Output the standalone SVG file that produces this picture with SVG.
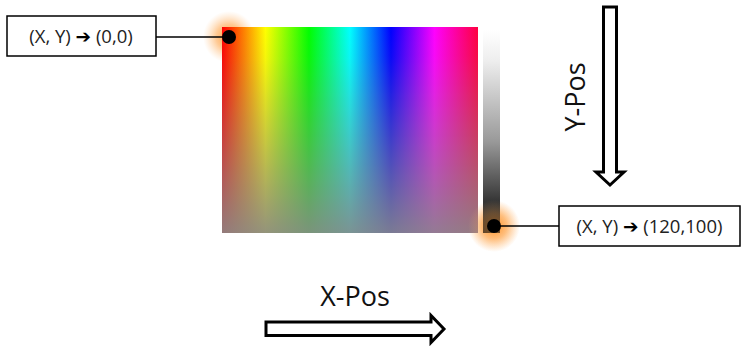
<svg xmlns="http://www.w3.org/2000/svg" width="744" height="347" viewBox="0 0 744 347">
<style>
.box{fill:#fff;stroke:#000;stroke-width:1.5}
.lbl{font-family:"Open Sans","Noto Sans","DejaVu Sans",sans-serif;font-size:18.5px;fill:#222;text-anchor:middle}
.ar{font-family:"DejaVu Sans",sans-serif;font-weight:bold;fill:#000}
.big{font-family:"Open Sans","Noto Sans",sans-serif;font-size:27px;fill:#111;text-anchor:middle}
.conn{stroke:#000;stroke-width:1.5;fill:none}
.arr{fill:#fff;stroke:#000;stroke-width:3;stroke-linejoin:miter}
</style>
<defs>
<linearGradient id="hue" x1="0" y1="0" x2="1" y2="0">
<stop offset="0" stop-color="#ff0000"/>
<stop offset="0.17" stop-color="#ffff00"/>
<stop offset="0.34" stop-color="#00ff00"/>
<stop offset="0.5" stop-color="#00ffff"/>
<stop offset="0.66" stop-color="#0000ff"/>
<stop offset="0.83" stop-color="#ff00ff"/>
<stop offset="1" stop-color="#ff0040"/>
</linearGradient>
<linearGradient id="sat" x1="0" y1="0" x2="0" y2="1">
<stop offset="0" stop-color="#888" stop-opacity="0"/>
<stop offset="0.15" stop-color="#888" stop-opacity="0.08"/>
<stop offset="1" stop-color="#888" stop-opacity="0.9"/>
</linearGradient>
<linearGradient id="val" x1="0" y1="0" x2="0" y2="1">
<stop offset="0" stop-color="#fff"/>
<stop offset="0.15" stop-color="#eee"/>
<stop offset="0.55" stop-color="#999"/>
<stop offset="0.85" stop-color="#333"/>
<stop offset="1" stop-color="#222"/>
</linearGradient>
<radialGradient id="glow">
<stop offset="0" stop-color="#ff8c1a" stop-opacity="0.9"/>
<stop offset="0.5" stop-color="#ffa040" stop-opacity="0.55"/>
<stop offset="1" stop-color="#ffc080" stop-opacity="0"/>
</radialGradient>
</defs>
<g id="picker">
<circle cx="229" cy="37" r="26" fill="url(#glow)"/>
<circle cx="494" cy="226" r="26" fill="url(#glow)"/>
<rect x="222" y="27" width="256" height="206" fill="url(#hue)"/>
<rect x="222" y="27" width="256" height="206" fill="url(#sat)"/>
<rect x="483" y="30" width="17" height="203" fill="url(#val)"/>
<circle cx="494" cy="226" r="26" fill="url(#glow)" opacity="0.5"/>
</g>
<g id="connectors">
<line class="conn" x1="156" y1="37" x2="229" y2="37"/>
<line class="conn" x1="494" y1="226" x2="559" y2="226"/>
<circle cx="229" cy="37" r="7" fill="#000"/>
<circle cx="494" cy="226" r="7" fill="#000"/>
</g>
<g id="origin">
<rect class="box" x="7" y="16" width="149" height="40"/>
<text class="lbl" x="81" y="42.5">(X, Y) <tspan class="ar">➔</tspan> (0,0)</text>
</g>
<g id="end">
<rect class="box" x="559" y="206" width="181" height="40"/>
<text class="lbl" x="649.5" y="232.5">(X, Y) <tspan class="ar">➔</tspan> (120,100)</text>
</g>
<g id="xpos">
<text class="big" x="355" y="306">X-Pos</text>
<path class="arr" d="M266,322 L431,322 L431,315.5 L444,329 L431,342.5 L431,335.5 L266,335.5 Z"/>
</g>
<g id="ypos">
<text class="big" transform="translate(585,97) rotate(-90)">Y-Pos</text>
<path class="arr" d="M603.5,7 L616.5,7 L616.5,172 L624,172 L610,185 L596,172 L603.5,172 Z"/>
</g>
</svg>
